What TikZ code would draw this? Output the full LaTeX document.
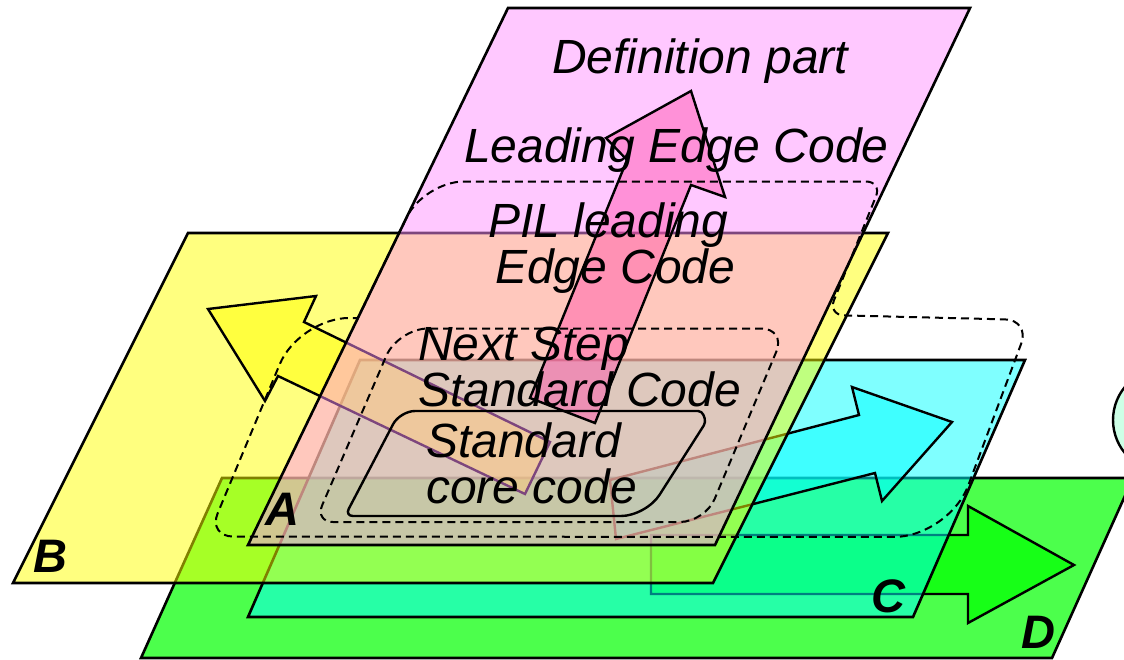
\documentclass[tikz,border=0pt]{standalone}
\usepackage{fontspec}
\setmainfont{Liberation Sans}
\definecolor{pinkA}{RGB}{255,143,255}
\definecolor{arrA}{RGB}{255,80,170}
\definecolor{mintC}{RGB}{205,255,230}
\definecolor{cyanC}{RGB}{0,255,255}
\definecolor{yellowC}{RGB}{255,255,0}
\definecolor{greenC}{RGB}{0,255,0}
\begin{document}
\begin{tikzpicture}[x=1pt,y=-1pt,
  plane/.style={draw=black, line width=2.6pt, line join=miter},
  arrowshape/.style={draw=black, line width=2.4pt, line join=miter},
  dashline/.style={draw=black, line width=2pt, dash pattern=on 8pt off 5pt},
  txt/.style={anchor=base west, inner sep=0pt, font=\fontsize{48}{52}\selectfont\itshape},
  lbl/.style={anchor=base west, inner sep=0pt, font=\fontsize{47}{50}\selectfont\bfseries\itshape}]
\useasboundingbox (0,0) rectangle (1124,659);

% plane D
\filldraw[plane, fill=greenC, fill opacity=0.7] (222,478) -- (1133,478) -- (1052,658) -- (141,658) -- cycle;
% arrow D
\filldraw[arrowshape, fill=greenC, fill opacity=0.7] (1074,565) -- (968,623) -- (968,594) -- (651,594) -- (651,535) -- (968,535) -- (968,506) -- cycle;
% plane C
\filldraw[plane, fill=cyanC, fill opacity=0.5] (360,360) -- (1025,360) -- (913,617) -- (248,617) -- cycle;
% arrow C
\filldraw[arrowshape, fill=cyanC, fill opacity=0.5] (952,422) -- (882,501) -- (875,473) -- (616,539) -- (610,480) -- (859,415) -- (852,387) -- cycle;
% plane B
\filldraw[plane, fill=yellowC, fill opacity=0.5] (188,233) -- (888,233) -- (713,583) -- (13,583) -- cycle;
% arrow B
\filldraw[arrowshape, fill=yellowC, fill opacity=0.5] (208,309) -- (316,296) -- (304,322) -- (550,442) -- (525,494) -- (278,376) -- (265,401) -- cycle;
% plane A
\filldraw[plane, fill=pinkA, fill opacity=0.49] (508,8) -- (970,8) -- (715,545) -- (248,545) -- cycle;
% arrow A
\filldraw[arrowshape, fill=arrA, fill opacity=0.46] (691,91) -- (725,197) -- (691,185) -- (595,423) -- (530,398) -- (627,160) -- (606,138) -- cycle;

% partial circle at right edge
\filldraw[draw=black, line width=2.4pt, fill=mintC] (1165,420) circle (52);

% large dashed region
\draw[dashline] (386,260) [rounded corners=40pt] -- (424,181.5) [rounded corners=16pt] -- (882,181.5) -- (828,315) [rounded corners=25pt] -- (1030,320) [rounded corners=55pt] -- (949,537) [rounded corners=25pt] -- (208,536.5) [rounded corners=50pt] -- (299,318) [sharp corners] -- (358,318) -- (386,260);

% medium dashed region
\draw[dashline] (560,328.5) [rounded corners=25pt] -- (786,328.5) -- (705,522) [rounded corners=18pt] -- (315,522) [rounded corners=30pt] -- (398,328.5) -- (560,328.5);

% solid core region
\draw[line width=2.4pt] (550,411) [rounded corners=4pt] -- (702,411) -- (706,422) [rounded corners=25pt] -- (646,516) [rounded corners=8pt] -- (345,516) [rounded corners=15pt] -- (400,411) -- (550,411);

% texts
\node[txt] (tdef) at (552,73) {Definition part};
\node[txt] (tlec) at (464,162) {Leading Edge Code};
\node[txt] (tpil1) at (488,237) {PIL leading};
\node[txt] (tpil2) at (495,283) {Edge Code};
\node[txt] (tns1) at (418,360) {Next Step};
\node[txt] (tns2) at (418,406) {Standard Code};
\node[txt] (tsc1) at (426,457) {Standard};
\node[txt] (tsc2) at (426,503) {core code};

% labels
\node[lbl] (la) at (265,525) {A};
\node[lbl] (lb) at (33,572) {B};
\node[lbl] (lc) at (871,612) {C};
\node[lbl] (ld) at (1021,648) {D};
\end{tikzpicture}
\end{document}
